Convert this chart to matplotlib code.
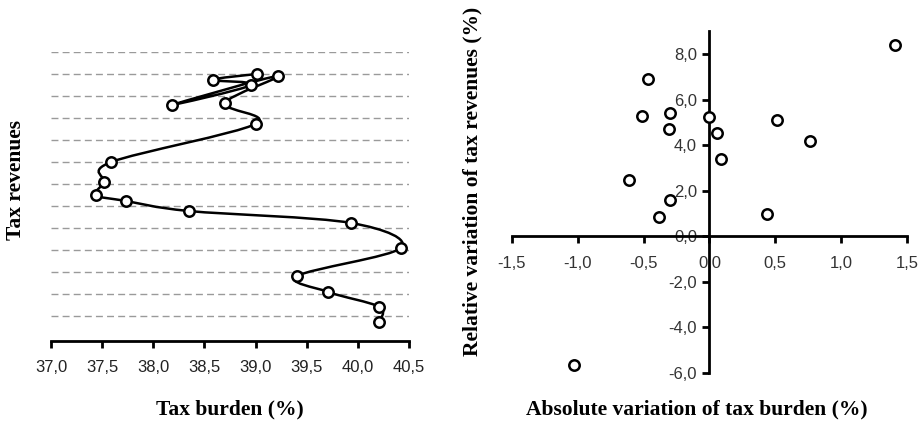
import numpy as np
import matplotlib.pyplot as plt
from matplotlib.path import Path
from matplotlib.patches import PathPatch
from matplotlib.ticker import FuncFormatter

# left chart: tax burden (%) vs tax revenues (grid units, labels hidden), in time order
burden = [40.21, 40.21, 39.71, 39.41, 40.42, 39.93, 38.35, 37.73, 37.44,
          37.52, 37.59, 39.00, 38.70, 39.22, 38.18, 38.96, 38.58, 39.01]
revenues = [0.73, 1.41, 2.09, 2.82, 4.09, 5.23, 5.77, 6.23, 6.50,
            7.09, 8.00, 9.73, 10.68, 11.91, 10.59, 11.50, 11.73, 12.00]
grid_levels = list(range(1, 14))
left_ticks = [37.0, 37.5, 38.0, 38.5, 39.0, 39.5, 40.0, 40.5]

# right chart: absolute variation of burden vs relative variation of revenues
d_burden = [1.41, -0.47, -0.51, -0.30, -0.31, 0.00, 0.06, 0.09, 0.51,
            0.76, -0.61, -0.30, -0.38, 0.44, -1.03]
d_revenues = [8.40, 6.90, 5.27, 5.41, 4.70, 5.23, 4.53, 3.38, 5.10,
              4.18, 2.46, 1.58, 0.84, 0.97, -5.63]
right_xticks = [-1.5, -1.0, -0.5, 0.0, 0.5, 1.0, 1.5]
right_yticks = [-6, -4, -2, 0, 2, 4, 6, 8]

tick_font = 'Liberation Sans'
label_font = 'Liberation Serif'
comma = FuncFormatter(lambda v, p: ('%.1f' % v).replace('.', ','))


def smooth_path(xs, ys):
    # Catmull-Rom style bezier like Excel's smoothed lines
    pts = np.column_stack([xs, ys])
    ext = np.vstack([pts[0], pts, pts[-1]])
    verts = [pts[0]]
    codes = [Path.MOVETO]
    for i in range(len(pts) - 1):
        p0, p1, p2, p3 = ext[i], ext[i + 1], ext[i + 2], ext[i + 3]
        verts += [p1 + (p2 - p0) / 6, p2 - (p3 - p1) / 6, p2]
        codes += [Path.CURVE4] * 3
    return Path(verts, codes)


fig = plt.figure(figsize=(9.19, 4.21), dpi=100)

# ---- left chart
ax1 = fig.add_axes([0.0555, 0.19, 0.3895, 0.6865])
for g in grid_levels:
    ax1.axhline(g, color='#9a9a9a', lw=1, ls=(0, (5, 3)), zorder=1)
ax1.add_patch(PathPatch(smooth_path(burden, revenues), fill=False,
                        edgecolor='black', lw=1.8, zorder=2))
ax1.plot(burden, revenues, ls='none', marker='o', ms=7.5, mfc='white',
         mec='black', mew=1.8, zorder=3)
ax1.set_xlim(37.0, 40.5)
ax1.set_ylim(-0.14, 13)
ax1.set_xticks(left_ticks)
ax1.xaxis.set_major_formatter(comma)
ax1.set_yticks([])
for s in ['left', 'right', 'top']:
    ax1.spines[s].set_visible(False)
ax1.spines['bottom'].set_linewidth(2)
ax1.tick_params(axis='x', direction='out', length=5, width=2, pad=9,
                labelsize=12)
for lab in ax1.get_xticklabels():
    lab.set_fontfamily(tick_font)
    lab.set_color('#222222')
fig.text(0.25, 0.028, 'Tax burden (%)', ha='center', va='center',
         fontfamily=label_font, fontweight='bold', fontsize=15.5)
fig.text(0.017, 0.573, 'Tax revenues', rotation=90, ha='center', va='center',
         fontfamily=label_font, fontweight='bold', fontsize=15.5)

# ---- right chart
ax2 = fig.add_axes([0.557, 0.114, 0.43, 0.812])
ax2.plot(d_burden, d_revenues, ls='none', marker='o', ms=7.5, mfc='white',
         mec='black', mew=1.8, clip_on=False, zorder=3)
ax2.set_xlim(-1.5, 1.5)
ax2.set_ylim(-6, 9)
ax2.spines['left'].set_position(('data', 0))
ax2.spines['bottom'].set_position(('data', 0))
ax2.spines['right'].set_visible(False)
ax2.spines['top'].set_visible(False)
ax2.spines['left'].set_linewidth(2)
ax2.spines['bottom'].set_linewidth(2)
ax2.set_xticks(right_xticks)
ax2.set_yticks(right_yticks)
ax2.xaxis.set_major_formatter(comma)
ax2.yaxis.set_major_formatter(comma)
ax2.tick_params(axis='x', direction='out', length=5, width=2, pad=9,
                labelsize=12)
ax2.tick_params(axis='y', direction='out', length=5, width=2, pad=4,
                labelsize=12)
for lab in ax2.get_xticklabels() + ax2.get_yticklabels():
    lab.set_fontfamily(tick_font)
    lab.set_color('#333333')
fig.text(0.758, 0.028, 'Absolute variation of tax burden (%)', ha='center',
         va='center', fontfamily=label_font, fontweight='bold', fontsize=15.5)
fig.text(0.514, 0.57, 'Relative variation of tax revenues (%)', rotation=90,
         ha='center', va='center', fontfamily=label_font, fontweight='bold',
         fontsize=15.5)

fig.savefig('out.png', dpi=100)
